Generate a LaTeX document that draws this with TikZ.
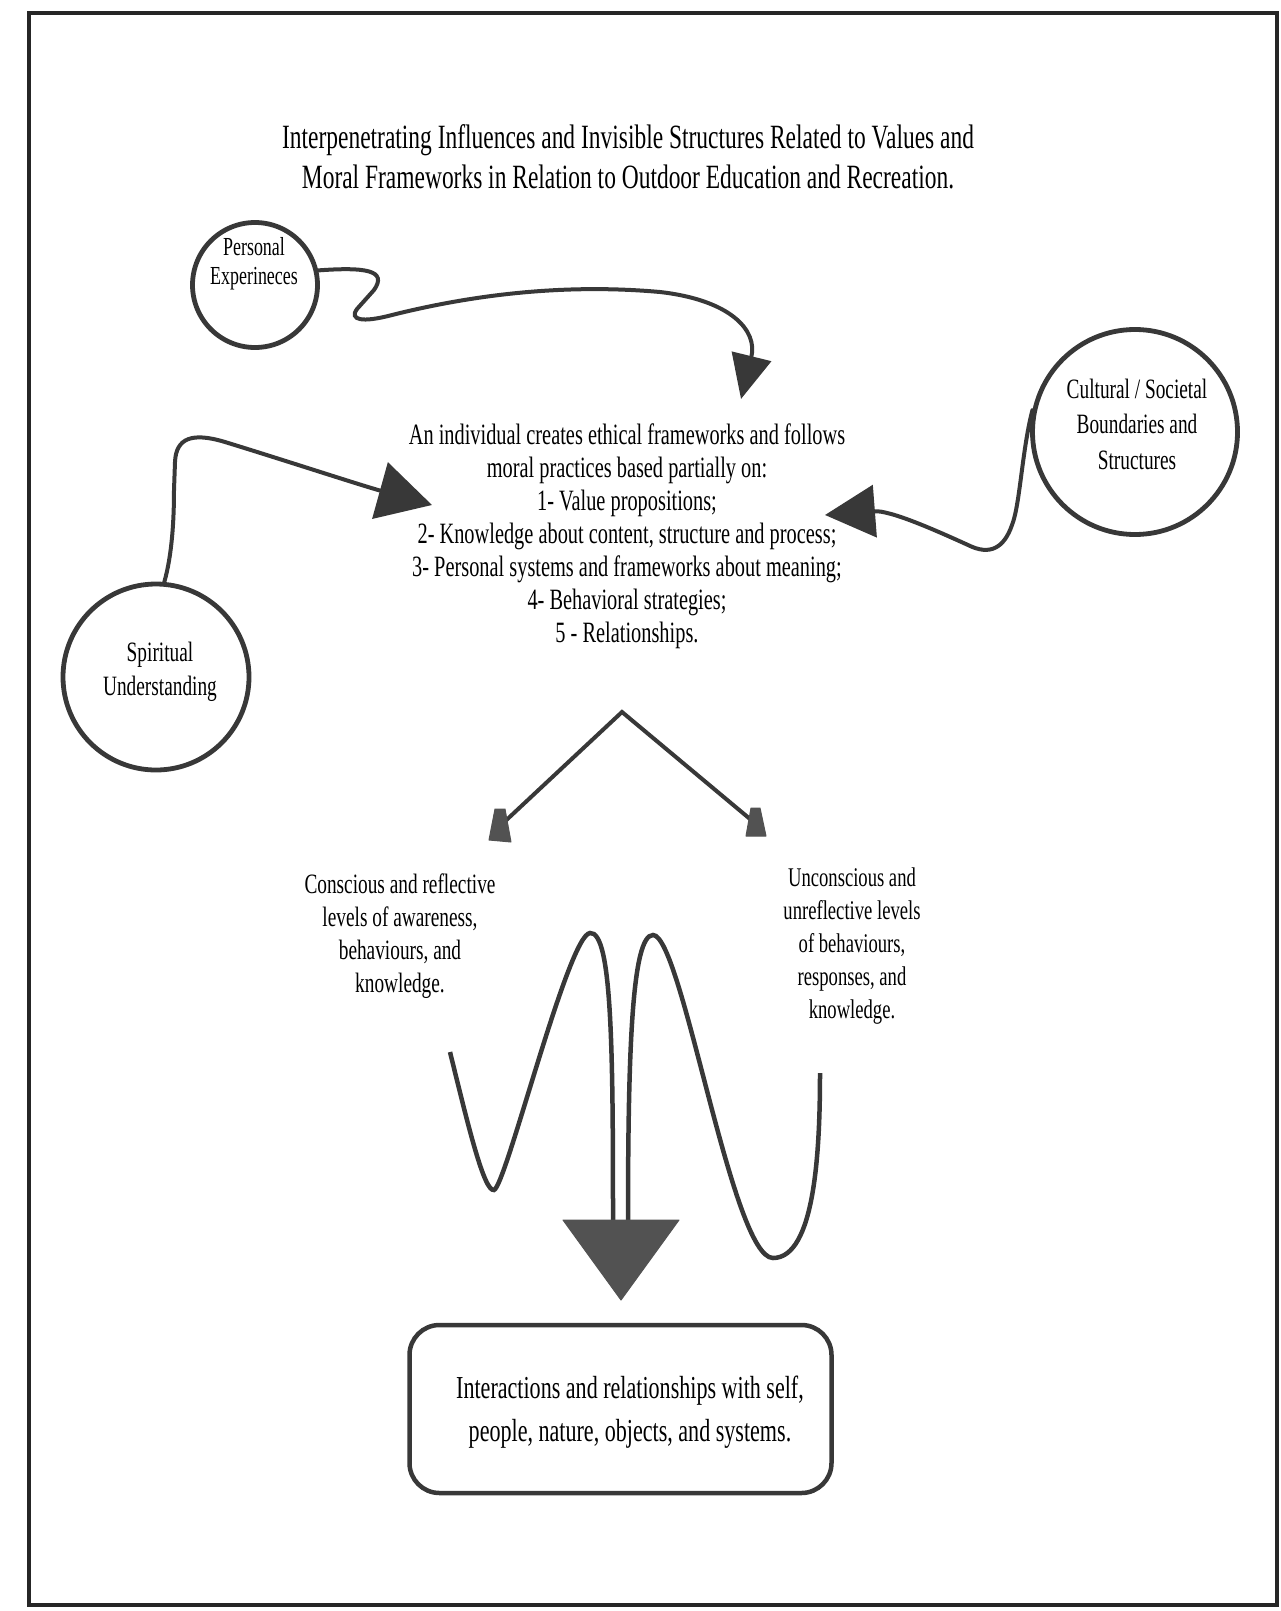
\documentclass[tikz,border=0pt]{standalone}
\usepackage{fontspec}
\setmainfont{Liberation Serif}[FakeStretch=0.69]
\usetikzlibrary{arrows.meta}
\definecolor{ink}{gray}{0.22}
\definecolor{headgray}{gray}{0.32}
\tikzset{
  ring/.style={circle, draw=ink, line width=4.8pt, inner sep=0pt},
  lbl/.style={align=center, inner sep=0pt, text=black},
  conn/.style={draw=ink, line width=4pt, line cap=round},
  vline/.style={draw=ink, line width=4pt, line join=miter},
  wavy/.style={draw=ink, line width=4.5pt},
  headfill/.style={fill=headgray, draw=headgray, line width=1pt, line join=round},
  outbox/.style={draw=ink, line width=4.5pt, rounded corners=30pt, minimum width=422pt, minimum height=168pt, inner sep=0pt}
}
\begin{document}
\begin{tikzpicture}[x=1pt,y=-1pt]
\useasboundingbox (0,0) rectangle (1280,1611);
\draw[line width=3.2pt, black!85] (29,13) rectangle (1277,1605);

% title
\node[lbl, font=\fontsize{34}{40}\selectfont] (title) at (628,157)
  {\hspace*{0pt}Interpenetrating Influences and Invisible Structures Related to Values and\\
   Moral Frameworks in Relation to Outdoor Education and Recreation.};

% circles
\node[ring, minimum size=125pt] (pe) at (255,285) {};
\node[lbl, font=\fontsize{26}{29}\selectfont] (pet) at (254,264) {Personal\\Experineces};
\node[ring, minimum size=186pt] (su) at (156,677) {};
\node[lbl, font=\fontsize{28}{34}\selectfont] (sut) at (160,672) {Spiritual\\Understanding};
\node[ring, minimum size=205pt] (cu) at (1135,432) {};
\node[lbl, font=\fontsize{28}{35.5}\selectfont] (cut) at (1137,424) {Cultural / Societal\\Boundaries and\\Structures};

% central text
\node[lbl, font=\fontsize{29.5}{33}\selectfont] (core) at (627,536)
  {An individual creates ethical frameworks and follows\\
   moral practices based partially on:\\
   1- Value propositions;\\
   2- Knowledge about content, structure and process;\\
   3- Personal systems and frameworks about meaning;\\
   4- Behavioral strategies;\\
   5 - Relationships.};

% arrow tips
\coordinate (pt) at (741,399);
\coordinate (st) at (432,505);
\coordinate (ct) at (825,515);

\draw[conn, -{Triangle[length=44pt,width=40pt]}] (pe.13)
  .. controls (365,267) and (388,270) .. (374,290)
  -- (357,309)
  .. controls (349,320) and (362,323) .. (392,315)
  .. controls (480,293) and (570,284) .. (660,292)
  .. controls (730,300) and (758,330) .. (pt);

\draw[conn, -{Triangle[length=54pt,width=58pt]}] (su.85)
  .. controls (172,555) and (174,520) .. (174,490)
  -- (175,462)
  .. controls (176,438) and (192,432) .. (225,442)
  .. controls (290,462) and (360,485) .. (st);

\draw[conn, -{Triangle[length=50pt,width=52pt]}] (cu.168)
  .. controls (1022,450) and (1020,505) .. (1012,525)
  .. controls (1004,548) and (990,556) .. (968,545)
  .. controls (935,530) and (890,510) .. (ct);

% split arrows
\coordinate (apex) at (622,712);
\coordinate (lh) at (500,826);
\coordinate (rh) at (756,824);
\draw[vline] (lh) -- (apex) -- (rh);
\filldraw[headfill] (495,809) -- (505,809) -- (511,842) -- (489,840) -- cycle;
\filldraw[headfill] (751,808) -- (760,808) -- (766,836) -- (746,836) -- cycle;

\node[lbl, font=\fontsize{28}{33}\selectfont] (cons) at (400,936)
  {Conscious and reflective\\levels of awareness,\\behaviours, and\\knowledge.};
\node[lbl, font=\fontsize{27}{33}\selectfont] (uncons) at (852,946)
  {Unconscious and\\unreflective levels\\of behaviours,\\responses, and\\knowledge.};

% waves
\coordinate (w1s) at (450,1052);
\coordinate (w1e) at (613,1222);
\coordinate (w2s) at (628,1222);
\coordinate (w2e) at (820,1073);
\draw[wavy] (w1s)
  .. controls (468,1125) and (484,1192) .. (494,1190)
  .. controls (506,1186) and (568,935) .. (590,933)
  .. controls (612,931) and (613,1050) .. (w1e);
\draw[wavy] (w2s)
  .. controls (628,1050) and (632,935) .. (653,935)
  .. controls (682,935) and (732,1258) .. (773,1258)
  .. controls (815,1258) and (820,1150) .. (w2e);
\filldraw[headfill] (563,1220) -- (679,1220) -- (621,1300) -- cycle;

% outcome box
\node[outbox] (out) at (620.5,1409) {};
\node[lbl, font=\fontsize{32}{43}\selectfont] (outt) at (630,1412)
  {Interactions and relationships with self,\\people, nature, objects, and systems.};
\end{tikzpicture}
\end{document}
